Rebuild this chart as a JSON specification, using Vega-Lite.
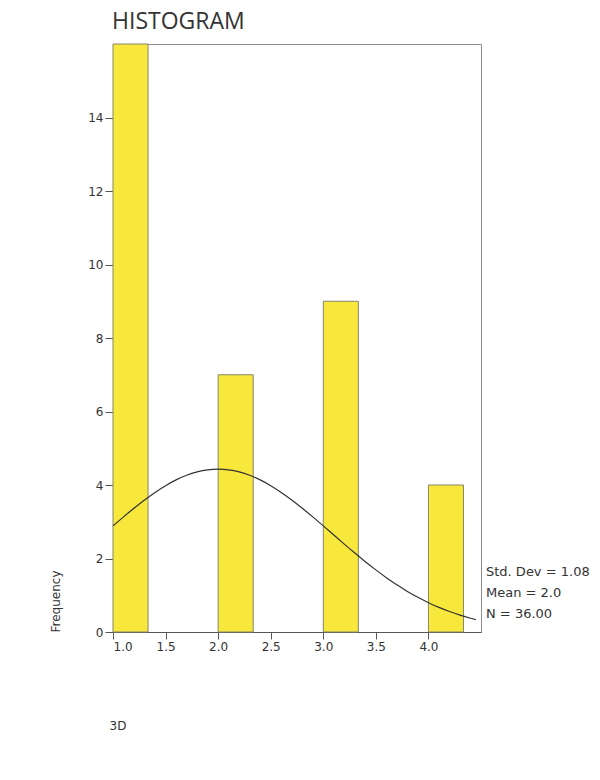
{
  "$schema": "https://vega.github.io/schema/vega-lite/v6.json",
  "width": 368,
  "height": 588,
  "autosize": {"type": "none"},
  "padding": {"left": 113, "top": 44, "right": 119, "bottom": 148},
  "background": "white",
  "config": {
    "view": {"stroke": "#8c8c8c", "strokeWidth": 1},
    "font": "DejaVu Sans"
  },
  "title": {
    "text": "HISTOGRAM",
    "anchor": "start",
    "frame": "group",
    "font": "Open Sans",
    "fontSize": 23,
    "fontWeight": "normal",
    "color": "#333333",
    "offset": 10,
    "dx": -1
  },
  "datasets": {
    "bars": [
      {"start": 1.0, "end": 1.3333, "count": 16},
      {"start": 2.0, "end": 2.3333, "count": 7},
      {"start": 3.0, "end": 3.3333, "count": 9},
      {"start": 4.0, "end": 4.3333, "count": 4}
    ],
    "curve": [
      {"x": 1.0, "y": 2.887}, {"x": 1.1, "y": 3.133}, {"x": 1.2, "y": 3.369},
      {"x": 1.3, "y": 3.593}, {"x": 1.4, "y": 3.799}, {"x": 1.5, "y": 3.982},
      {"x": 1.6, "y": 4.139}, {"x": 1.7, "y": 4.265}, {"x": 1.8, "y": 4.357},
      {"x": 1.9, "y": 4.414}, {"x": 2.0, "y": 4.433}, {"x": 2.1, "y": 4.414},
      {"x": 2.2, "y": 4.357}, {"x": 2.3, "y": 4.265}, {"x": 2.4, "y": 4.139},
      {"x": 2.5, "y": 3.982}, {"x": 2.6, "y": 3.799}, {"x": 2.7, "y": 3.593},
      {"x": 2.8, "y": 3.369}, {"x": 2.9, "y": 3.133}, {"x": 3.0, "y": 2.887},
      {"x": 3.1, "y": 2.639}, {"x": 3.2, "y": 2.391}, {"x": 3.3, "y": 2.148},
      {"x": 3.4, "y": 1.913}, {"x": 3.5, "y": 1.69}, {"x": 3.6, "y": 1.479},
      {"x": 3.7, "y": 1.284}, {"x": 3.8, "y": 1.105}, {"x": 3.9, "y": 0.943},
      {"x": 4.0, "y": 0.798}, {"x": 4.1, "y": 0.669}, {"x": 4.2, "y": 0.557},
      {"x": 4.3, "y": 0.459}, {"x": 4.4, "y": 0.375}, {"x": 4.45, "y": 0.338}
    ],
    "stats": [
      {"x": 4.5, "y": 1.63, "label": "Std. Dev = 1.08"},
      {"x": 4.5, "y": 1.06, "label": "Mean = 2.0"},
      {"x": 4.5, "y": 0.49, "label": "N = 36.00"}
    ]
  },
  "layer": [
    {
      "data": {"name": "bars"},
      "mark": {"type": "rect", "fill": "#f8e83c", "stroke": "#85856a", "strokeWidth": 1},
      "encoding": {
        "x": {
          "field": "start", "type": "quantitative",
          "scale": {"domain": [1, 4.5], "nice": false, "zero": false},
          "axis": {
            "values": [1, 1.5, 2, 2.5, 3, 3.5, 4],
            "format": ".1f",
            "grid": false,
            "domainColor": "#555555",
            "tickColor": "#555555",
            "tickSize": 7,
            "labelPadding": 2,
            "labelFontSize": 12,
            "labelColor": "#333333",
            "labelFont": "DejaVu Sans",
            "title": "3D",
            "titleFont": "DejaVu Sans",
            "titleFontSize": 12,
            "titleFontWeight": "normal",
            "titleColor": "#333333",
            "titleAnchor": "start",
            "titleAlign": "left",
            "titleX": -4,
            "titleY": 93,
            "titleBaseline": "middle"
          }
        },
        "x2": {"field": "end"},
        "y": {
          "field": "count", "type": "quantitative",
          "scale": {"domain": [0, 16], "nice": false},
          "axis": {
            "values": [0, 2, 4, 6, 8, 10, 12, 14],
            "grid": false,
            "domainColor": "#555555",
            "tickColor": "#555555",
            "tickSize": 8,
            "labelPadding": 2,
            "labelFontSize": 12,
            "labelColor": "#333333",
            "labelFont": "DejaVu Sans",
            "title": "Frequency",
            "titleFont": "DejaVu Sans",
            "titleFontSize": 12,
            "titleFontWeight": "normal",
            "titleColor": "#333333",
            "titleAnchor": "start",
            "titleX": -58,
            "titleY": 588,
            "titleBaseline": "middle",
            "titleAlign": "left",
            "titleAngle": -90
          }
        },
        "y2": {"datum": 0}
      }
    },
    {
      "data": {"name": "curve"},
      "mark": {"type": "line", "color": "#333333", "strokeWidth": 1.2, "interpolate": "monotone"},
      "encoding": {
        "x": {"field": "x", "type": "quantitative"},
        "y": {"field": "y", "type": "quantitative"}
      }
    },
    {
      "data": {"name": "stats"},
      "mark": {"type": "text", "align": "left", "baseline": "middle", "dx": 5, "fontSize": 13, "font": "DejaVu Sans", "color": "#333333"},
      "encoding": {
        "x": {"field": "x", "type": "quantitative"},
        "y": {"field": "y", "type": "quantitative"},
        "text": {"field": "label"}
      }
    }
  ]
}
